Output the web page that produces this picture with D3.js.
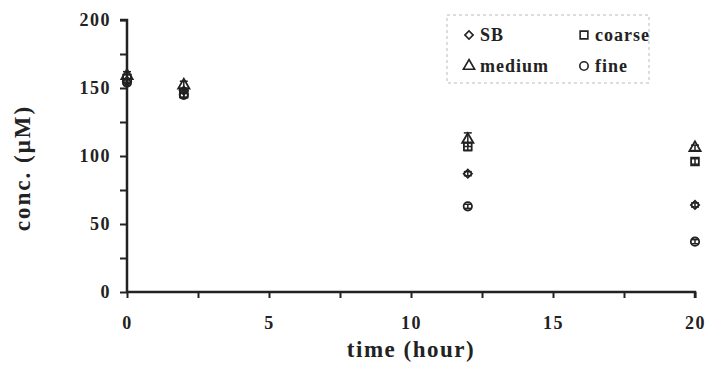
<!DOCTYPE html>
<html><head><meta charset="utf-8">
<script src="https://cdn.jsdelivr.net/npm/d3@7"></script>
<style>body{margin:0;background:#fff}svg{display:block}</style>
</head><body>
<svg id="c" width="706" height="382"></svg>
<script>
const times = [0, 2, 12, 20];
const sbVals = [155, 148, 87, 64];
const coarseVals = [157, 146, 107, 96];
const mediumVals = [159, 152, 112, 106];
const fineVals = [154, 145, 63, 37];
const sbErr = [2, 2, 1.5, 1.5];
const coarseErr = [3, 3, 3, 2];
const mediumErr = [3, 3, 5, 2];
const fineErr = [2, 2, 1.5, 1.5];
const xTicks = [0, 5, 10, 15, 20];
const yTicks = [0, 50, 100, 150, 200];
const seriesNames = ["SB", "coarse", "medium", "fine"];

const series = [
  {name: "SB", vals: sbVals, err: sbErr, sym: d3.symbolSquare, rot: 45, size: 34},
  {name: "coarse", vals: coarseVals, err: coarseErr, sym: d3.symbolSquare, rot: 0, size: 60},
  {name: "medium", vals: mediumVals, err: mediumErr, sym: d3.symbolTriangle, rot: 0, size: 55},
  {name: "fine", vals: fineVals, err: fineErr, sym: d3.symbolCircle, rot: 0, size: 55}
];

const svg = d3.select("#c");
const font = "'Liberation Serif','Times New Roman',serif";
const ink = "#222";
const x = d3.scaleLinear().domain([0, 20]).range([127, 695]);
const y = d3.scaleLinear().domain([0, 200]).range([292, 20]);

// y axis
const ya = svg.append("g").attr("transform", `translate(${x(0)},0)`)
  .call(d3.axisLeft(y).tickValues(d3.range(0, 201, 25)).tickSize(7)
    .tickFormat(d => yTicks.includes(d) ? d : ""));
ya.select(".domain").attr("stroke", ink).attr("stroke-width", 2.5).attr("d", `M-7,${y(200)}H0V${y(0)}`);
ya.selectAll(".tick line").attr("stroke", ink).attr("stroke-width", 2);
ya.selectAll(".tick text").attr("font-family", font).attr("font-weight", "bold")
  .attr("font-size", 18).attr("letter-spacing", 1.5).attr("fill", ink).attr("x", -16);

// x axis
const xa = svg.append("g").attr("transform", `translate(0,${y(0)})`)
  .call(d3.axisBottom(x).tickValues(d3.range(0, 20.01, 2.5)).tickSize(6)
    .tickFormat(d => xTicks.includes(d) ? d : ""));
xa.select(".domain").attr("stroke", ink).attr("stroke-width", 2.5).attr("d", `M${x(0)},0H${x(20)}V6`);
xa.selectAll(".tick line").attr("stroke", ink).attr("stroke-width", 2);
xa.selectAll(".tick text").attr("font-family", font).attr("font-weight", "bold")
  .attr("font-size", 18).attr("letter-spacing", 1.5).attr("fill", ink).attr("y", 24);

// titles
svg.append("text").attr("x", (x(0) + x(20)) / 2).attr("y", 357).attr("text-anchor", "middle")
  .attr("font-family", font).attr("font-weight", "bold").attr("font-size", 23)
  .attr("letter-spacing", 1.5).attr("fill", ink).text("time (hour)");
svg.append("text").attr("transform", `translate(30,${(y(0) + y(200)) / 2 + 12}) rotate(-90)`)
  .attr("text-anchor", "middle").attr("font-family", font).attr("font-weight", "bold")
  .attr("font-size", 23).attr("letter-spacing", 2).attr("fill", ink).text("conc. (μM)");

// data
series.forEach(s => {
  const g = svg.append("g");
  times.forEach((t, i) => {
    const cx = x(t), v = s.vals[i], e = s.err[i];
    g.append("line").attr("x1", cx).attr("x2", cx).attr("y1", y(v + e)).attr("y2", y(v - e))
      .attr("stroke", ink).attr("stroke-width", 1.5);
    [v + e, v - e].forEach(w => g.append("line").attr("x1", cx - 4).attr("x2", cx + 4)
      .attr("y1", y(w)).attr("y2", y(w)).attr("stroke", ink).attr("stroke-width", 1.5));
    g.append("path").attr("d", d3.symbol().type(s.sym).size(s.size)())
      .attr("transform", `translate(${cx},${y(v)}) rotate(${s.rot})`)
      .attr("fill", "none").attr("stroke", ink).attr("stroke-width", 1.8);
  });
});

// legend
const lg = svg.append("g");
lg.append("rect").attr("x", 447).attr("y", 15).attr("width", 202).attr("height", 68)
  .attr("fill", "#fff").attr("stroke", "#bbb").attr("stroke-width", 1).attr("stroke-dasharray", "3,3");
const lpos = [[469, 35], [584, 35], [469, 66], [584, 66]];
series.forEach((s, i) => {
  const [lx, ly] = lpos[i];
  lg.append("path").attr("d", d3.symbol().type(s.sym).size(s.size)())
    .attr("transform", `translate(${lx},${ly}) rotate(${s.rot})`).attr("fill", "none")
    .attr("stroke", ink).attr("stroke-width", 1.6);
  lg.append("text").attr("x", lx + 11).attr("y", ly + 6).attr("font-family", font)
    .attr("font-weight", "bold").attr("font-size", 18).attr("fill", ink)
    .attr("letter-spacing", 1).text(seriesNames[i]);
});
</script>
</body></html>
